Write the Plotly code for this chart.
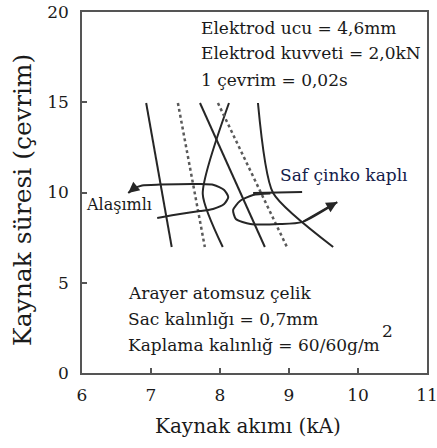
import plotly.graph_objects as go

# ---- data ----
x_ticks = [6, 7, 8, 9, 10, 11]
y_ticks = [0, 5, 10, 15, 20]

# lobe boundary lines (welding current kA, weld time cycles)
solid_a_x = [6.93, 7.30]
solid_a_y = [14.96, 6.98]
dotted_b_x = [7.39, 7.78]
dotted_b_y = [14.96, 6.98]
solid_c_x = [7.71, 8.65]
solid_c_y = [14.96, 6.98]
solid_d_x = [8.13, 7.75, 8.04]
solid_d_y = [14.96, 9.92, 6.98]
dotted_e_x = [7.97, 8.97]
dotted_e_y = [14.96, 6.98]
solid_f_x = [8.55, 8.77, 9.64]
solid_f_y = [14.96, 9.97, 6.98]

# "Alaşımlı" (alloyed) loop with arrow
alloy_x = [6.67, 6.74, 6.87, 7.13, 7.71, 7.91, 8.06, 8.12, 8.06, 7.90, 7.71, 7.42, 7.09]
alloy_y = [9.97, 10.19, 10.39, 10.44, 10.47, 10.42, 10.14, 9.75, 9.36, 9.09, 8.97, 8.81, 8.59]

# "Saf çinko kaplı" (pure zinc coated) loop with arrow
zinc_top_x = [8.48, 9.19]
zinc_top_y = [9.97, 10.03]
zinc_x = [8.73, 8.48, 8.29, 8.19, 8.23, 8.44, 8.87, 9.19, 9.70]
zinc_y = [9.94, 9.86, 9.53, 9.03, 8.53, 8.25, 8.25, 8.36, 9.47]

info_top = ["Elektrod ucu = 4,6mm", "Elektrod kuvveti = 2,0kN", "1 çevrim = 0,02s"]
info_top_y = [19.11, 17.73, 16.23]
info_bottom = ["Arayer atomsuz çelik", "Sac kalınlığı = 0,7mm", "Kaplama kalınlığ = 60/60g/m"]
info_bottom_y = [4.43, 2.99, 1.55]

FONT = "DejaVu Serif"
INK = "#262626"

fig = go.Figure()

def add_line(xs, ys, dash="solid", color=INK, width=2):
    fig.add_trace(go.Scatter(x=xs, y=ys, mode="lines",
                             line=dict(color=color, width=width, dash=dash, shape="spline", smoothing=0.6),
                             hoverinfo="skip", showlegend=False))

add_line(solid_a_x, solid_a_y)
add_line(dotted_b_x, dotted_b_y, dash="dot", color="#5a5a5a", width=2.5)
add_line(solid_c_x, solid_c_y)
add_line(solid_d_x, solid_d_y)
add_line(dotted_e_x, dotted_e_y, dash="dot", color="#5a5a5a", width=2.5)
add_line(solid_f_x, solid_f_y)
add_line(alloy_x, alloy_y)
add_line(zinc_top_x, zinc_top_y)
add_line(zinc_x, zinc_y)

annotations = []
# arrowheads
annotations.append(dict(x=alloy_x[0], y=alloy_y[0], ax=alloy_x[1], ay=alloy_y[1],
                        xref="x", yref="y", axref="x", ayref="y", text="", showarrow=True,
                        arrowhead=2, arrowsize=1.1, arrowwidth=2, arrowcolor=INK, standoff=0))
annotations.append(dict(x=zinc_x[-1], y=zinc_y[-1], ax=zinc_x[-2], ay=zinc_y[-2],
                        xref="x", yref="y", axref="x", ayref="y", text="", showarrow=True,
                        arrowhead=2, arrowsize=1.1, arrowwidth=2, arrowcolor=INK, standoff=0))

for t, yy in zip(info_top, info_top_y):
    annotations.append(dict(x=7.696, y=yy, xref="x", yref="y", text=t, showarrow=False,
                            xanchor="left", yanchor="middle",
                            font=dict(family=FONT, size=17, color="#1a1a1a")))
for t, yy in zip(info_bottom, info_bottom_y):
    annotations.append(dict(x=6.638, y=yy, xref="x", yref="y", text=t, showarrow=False,
                            xanchor="left", yanchor="middle",
                            font=dict(family=FONT, size=17, color="#1a1a1a")))
annotations.append(dict(x=10.43, y=2.35, xref="x", yref="y", text="2", showarrow=False,
                        xanchor="center", yanchor="middle",
                        font=dict(family=FONT, size=17, color="#1a1a1a")))
annotations.append(dict(x=6.03, y=9.36, xref="x", yref="y", text="Alaşımlı", showarrow=False,
                        xanchor="left", yanchor="middle",
                        font=dict(family=FONT, size=16, color="#1a1a1a")))
annotations.append(dict(x=8.841, y=10.97, xref="x", yref="y", text="Saf çinko kaplı", showarrow=False,
                        xanchor="left", yanchor="middle",
                        font=dict(family=FONT, size=17, color="#14204a")))
# axis titles (placed in pixels, converted below)
annotations.append(dict(x=248, y=448 - 426, xref="paper", yref="paper", text="Kaynak akımı (kA)",
                        showarrow=False, xanchor="center", yanchor="middle",
                        font=dict(family=FONT, size=20, color="#1a1a1a")))
annotations.append(dict(x=22, y=448 - 200, xref="paper", yref="paper", text="Kaynak süresi (çevrim)",
                        showarrow=False, xanchor="center", yanchor="middle", textangle=-90,
                        font=dict(family=FONT, size=25, color="#1a1a1a")))

L, R, T, B = 82, 10, 12, 75
W, H = 437, 448
pw, ph = W - L - R, H - T - B
for a in annotations:
    if a.get("xref") == "paper":
        a["x"] = (a["x"] - L) / pw
        a["y"] = (a["y"] - B) / ph

axis_common = dict(ticks="inside", ticklen=5, tickwidth=1.5, tickcolor="#555",
                   showline=True, linecolor="#555", linewidth=1.5, mirror=True,
                   showgrid=False, zeroline=False, automargin=False,
                   ticklabeloverflow="allow",
                   tickfont=dict(family=FONT, size=17, color="#1a1a1a"))

fig.update_layout(
    width=W, height=H,
    margin=dict(l=L, r=R, t=T, b=B, pad=0, autoexpand=False),
    paper_bgcolor="white", plot_bgcolor="white",
    annotations=annotations,
    showlegend=False,
    xaxis=dict(range=[6, 11], tickvals=x_ticks, ticktext=[str(v) for v in x_ticks],
               ticklabelstandoff=6, **axis_common),
    yaxis=dict(range=[0, 20], tickvals=y_ticks, ticktext=[str(v) for v in y_ticks],
               ticklabelstandoff=8, **axis_common),
)

fig.write_html("out.html")
